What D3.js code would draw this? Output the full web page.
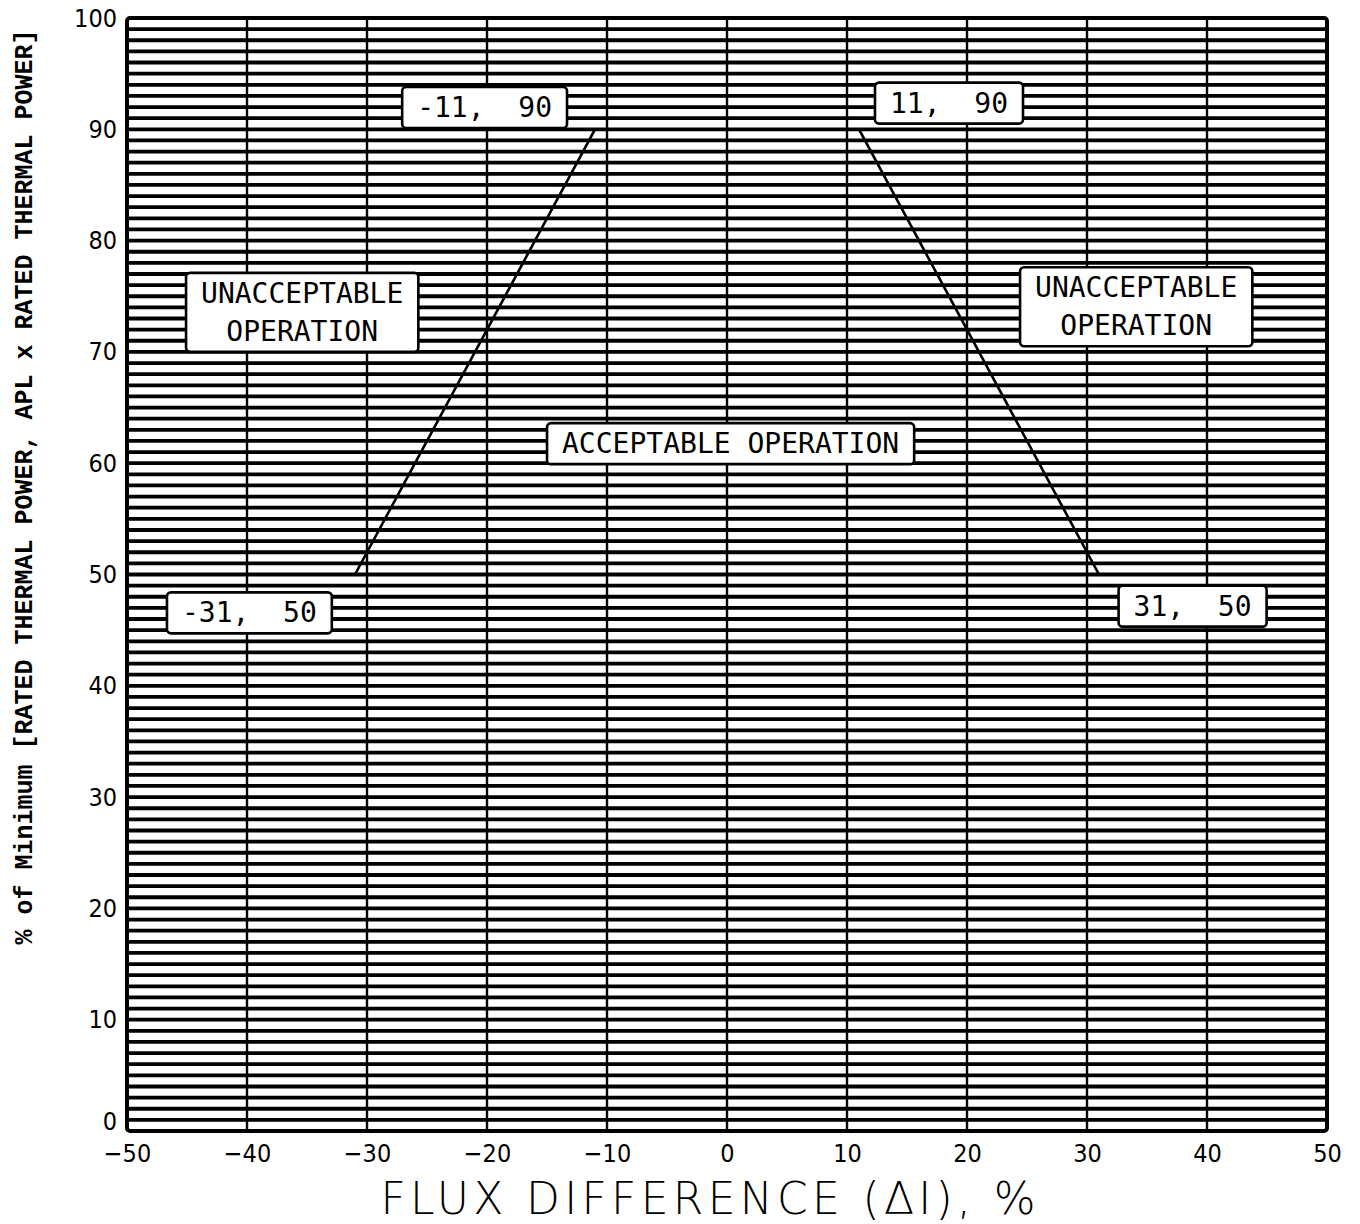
<html>
<head>
	<title>Flux difference limits</title>
	<script src="https://d3js.org/d3.v7.min.js"></script>
</head>
<body>
	<style> *{
		margin: 0px;
		padding: 0px;
	}
	body { background: #fff; }
	</style>

	<svg id="chart" xmlns="http://www.w3.org/2000/svg" width="1360" height="1224"></svg>

	<script>
	// limit line corner points
	var fluxPoints = [-31, -11, 11, 31];
	var powerPoints = [50, 90, 90, 50];

	// tick labels
	var xTicks = [-50, -40, -30, -20, -10, 0, 10, 20, 30, 40, 50];
	var yTicks = [0, 10, 20, 30, 40, 50, 60, 70, 80, 90, 100];
	var minorStep = 1;

	// annotations (text lines, x and y in data units)
	var noteText = [["-11,  90"], ["11,  90"], ["UNACCEPTABLE", "OPERATION"], ["UNACCEPTABLE", "OPERATION"], ["ACCEPTABLE OPERATION"], ["-31,  50"], ["31,  50"]];
	var noteX = [-20.2, 18.5, -35.4, 34.1, 0.3, -39.8, 38.8];
	var noteY = [92.0, 92.4, 73.6, 74.1, 61.8, 46.6, 47.2];

	var margin = { left: 127, top: 18 };
	var width = 1200, height = 1113;

	var svg = d3.select("#chart");
	var g = svg.append("g").attr("transform", "translate(" + margin.left + "," + margin.top + ")");

	var x = d3.scaleLinear().domain([-50, 50]).range([0, width]);
	var y = d3.scaleLinear().domain([0, 100]).range([height, 0]);

	// dense horizontal grid, one line per percent
	g.selectAll(".hgrid")
		.data(d3.range(minorStep, 100, minorStep))
		.enter().append("line")
		.attr("x1", 0).attr("x2", width)
		.attr("y1", function (d) { return y(d); })
		.attr("y2", function (d) { return y(d); })
		.attr("stroke", "#000")
		.attr("stroke-width", 3.8);

	// vertical grid at the labelled ticks
	g.selectAll(".vgrid")
		.data(xTicks.slice(1, -1))
		.enter().append("line")
		.attr("x1", function (d) { return x(d); })
		.attr("x2", function (d) { return x(d); })
		.attr("y1", 0).attr("y2", height)
		.attr("stroke", "#000")
		.attr("stroke-width", 2.4);

	// frame
	g.append("rect")
		.attr("x", 0).attr("y", 0)
		.attr("width", width).attr("height", height)
		.attr("fill", "none")
		.attr("stroke", "#000")
		.attr("stroke-width", 4)
		.attr("rx", 3);

	// limit line
	var line = d3.line()
		.x(function (d, i) { return x(d); })
		.y(function (d, i) { return y(powerPoints[i]); });
	g.append("path")
		.attr("d", line(fluxPoints))
		.attr("fill", "none")
		.attr("stroke", "#000")
		.attr("stroke-width", 2.6);

	// axes
	var tickFont = "'DejaVu Sans Condensed', 'DejaVu Sans', sans-serif";
	var xAxis = g.append("g")
		.attr("transform", "translate(0," + height + ")")
		.call(d3.axisBottom(x).tickValues(xTicks).tickSize(0).tickPadding(13).tickFormat(function (d) { return d < 0 ? "\u2212" + Math.abs(d) : d; }));
	var yAxis = g.append("g")
		.call(d3.axisLeft(y).tickValues(yTicks).tickSize(0).tickPadding(10));
	[xAxis, yAxis].forEach(function (a) {
		a.select(".domain").remove();
		a.selectAll("text")
			.attr("fill", "#000")
			.style("font-family", tickFont)
			.style("font-size", "25px");
	});
	// lift the zero label a little, as in the original plot
	yAxis.selectAll(".tick text").filter(function (d) { return d === 0; }).attr("dy", "-0.08em");

	// axis titles
	svg.append("text")
		.attr("x", 708).attr("y", 1214)
		.attr("text-anchor", "middle")
		.attr("textLength", 655)
		.style("font-family", "'DejaVu Sans', sans-serif")
		.style("font-weight", 300)
		.style("font-size", "44px")
		.text("FLUX DIFFERENCE (\u0394I), %");

	svg.append("text")
		.attr("transform", "translate(32,487) rotate(-90)")
		.attr("text-anchor", "middle")
		.style("font-family", "'Liberation Mono', 'DejaVu Sans Mono', monospace")
		.style("font-weight", "bold")
		.style("font-size", "25px")
		.text("% of Minimum [RATED THERMAL POWER, APL x RATED THERMAL POWER]");

	// annotation boxes
	var padX = 15, padY = 6, lineGap = 38;
	noteText.forEach(function (lines, i) {
		var ng = g.append("g");
		var txt = ng.append("text")
			.attr("text-anchor", "middle")
			.attr("xml:space", "preserve")
			.style("font-family", "'DejaVu Sans Mono', monospace")
			.style("font-size", "28px");
		var y0 = y(noteY[i]) - (lines.length - 1) * lineGap / 2 + 10;
		lines.forEach(function (s, k) {
			txt.append("tspan")
				.attr("x", x(noteX[i]))
				.attr("y", y0 + k * lineGap)
				.text(s);
		});
		var bb = txt.node().getBBox();
		ng.insert("rect", "text")
			.attr("x", bb.x - padX)
			.attr("y", bb.y - padY + 2)
			.attr("width", bb.width + 2 * padX)
			.attr("height", bb.height + 2 * padY - 4)
			.attr("rx", 4)
			.attr("fill", "#fff")
			.attr("stroke", "#000")
			.attr("stroke-width", 2.6);
	});
	</script>
</body>
</html>
